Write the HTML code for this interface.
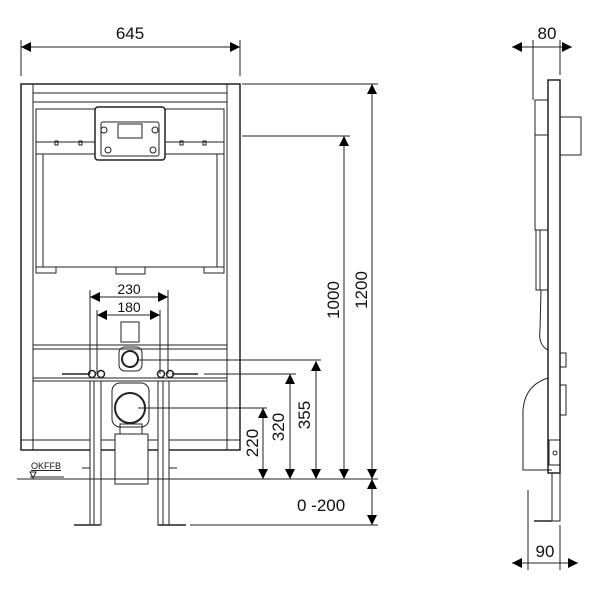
<!DOCTYPE html>
<html><head><style>body{margin:0;background:#fff}svg{display:block}text{font-family:"Liberation Sans",sans-serif;fill:#111}</style></head><body>
<svg width="600" height="600" viewBox="0 0 600 600" xmlns="http://www.w3.org/2000/svg">
<defs>
<marker id="a" viewBox="0 0 10 10" refX="10" refY="5" markerWidth="15" markerHeight="10" markerUnits="userSpaceOnUse" orient="auto-start-reverse"><path d="M0,0L10,5L0,10z" fill="#000"/></marker>
</defs>
<g stroke="#222" fill="none" stroke-width="1">
<line x1="21" y1="40" x2="21" y2="76"/><line x1="240" y1="40" x2="240" y2="76"/>
<line x1="21" y1="47" x2="240" y2="47" marker-start="url(#a)" marker-end="url(#a)"/>
<rect x="21" y="84" width="219" height="366" stroke-width="1.5"/>
<rect x="33" y="93" width="194" height="347"/>
<line x1="33" y1="102" x2="227" y2="102"/>
<line x1="21" y1="440" x2="240" y2="440"/>
<line x1="227" y1="84" x2="227" y2="450"/><line x1="33" y1="84" x2="33" y2="450"/>
<rect x="36" y="109" width="188" height="158"/>
<line x1="36" y1="142" x2="224" y2="142"/><line x1="36" y1="154" x2="224" y2="154"/>
<line x1="43" y1="154" x2="43" y2="267"/><line x1="217" y1="154" x2="217" y2="267"/>
<rect x="95" y="107" width="70" height="53" rx="3" fill="#fff" stroke-width="1.5"/>
<rect x="101" y="122" width="58" height="34" rx="2"/>
<rect x="118" y="124" width="24" height="14"/>
<circle cx="104" cy="130" r="3"/><circle cx="155" cy="130" r="3"/>
<circle cx="108" cy="150" r="3"/><circle cx="153" cy="150" r="3"/>
<rect x="55" y="141" width="3" height="4"/><rect x="79" y="141" width="3" height="4"/><rect x="180" y="141" width="3" height="4"/><rect x="203" y="141" width="3" height="4"/>
<rect x="36" y="267" width="20" height="6"/><rect x="204" y="267" width="20" height="6"/>
<rect x="116" y="267" width="29" height="7"/>
<rect x="33" y="345" width="194" height="4"/>
<rect x="33" y="378" width="194" height="3"/>
<line x1="62" y1="374" x2="90" y2="374" stroke-width="1.5"/><line x1="172" y1="374" x2="198" y2="374" stroke-width="1.5"/>
<circle cx="92" cy="374" r="3.5" stroke-width="1.5"/><circle cx="101" cy="374" r="3.5" stroke-width="1.5"/>
<circle cx="161" cy="374" r="3.5" stroke-width="1.5"/><circle cx="170" cy="374" r="3.5" stroke-width="1.5"/>
<rect x="121" y="322" width="18" height="20"/>
<rect x="119" y="347" width="23" height="24" rx="6"/>
<circle cx="130" cy="359" r="8" stroke-width="2"/>
<rect x="112" y="383" width="37" height="44" rx="8"/>
<circle cx="130" cy="408" r="15" stroke-width="2"/>
<rect x="120" y="424" width="22" height="10"/>
<rect x="115" y="434" width="33" height="50" fill="#fff"/>
<rect x="90" y="381" width="11" height="144" fill="#fff"/><line x1="94" y1="381" x2="94" y2="525"/>
<rect x="158" y="381" width="11" height="144" fill="#fff"/><line x1="163" y1="381" x2="163" y2="525"/>
<line x1="74" y1="525" x2="100" y2="525" stroke-width="1.5"/><line x1="158" y1="525" x2="186" y2="525" stroke-width="1.5"/>
<line x1="82" y1="468" x2="90" y2="468"/><line x1="169" y1="468" x2="177" y2="468"/>
<line x1="17" y1="479" x2="378" y2="479"/>
<line x1="30" y1="477" x2="64" y2="477"/>
<path d="M30,472L36,472L33,478z"/>
<line x1="90" y1="290" x2="90" y2="374"/><line x1="168" y1="290" x2="168" y2="374"/>
<line x1="97" y1="310" x2="97" y2="374"/><line x1="160" y1="310" x2="160" y2="374"/>
<line x1="90" y1="297" x2="168" y2="297" marker-start="url(#a)" marker-end="url(#a)"/>
<line x1="97" y1="315" x2="160" y2="315" marker-start="url(#a)" marker-end="url(#a)"/>
<line x1="242" y1="84" x2="378" y2="84"/>
<line x1="242" y1="136" x2="350" y2="136"/>
<line x1="138" y1="360" x2="321" y2="360"/>
<line x1="204" y1="374" x2="296" y2="374"/>
<line x1="138" y1="408" x2="267" y2="408"/>
<line x1="190" y1="525" x2="378" y2="525"/>
<line x1="372" y1="84" x2="372" y2="479" marker-start="url(#a)" marker-end="url(#a)"/>
<line x1="344" y1="136" x2="344" y2="479" marker-start="url(#a)" marker-end="url(#a)"/>
<line x1="316" y1="361" x2="316" y2="479" marker-start="url(#a)" marker-end="url(#a)"/>
<line x1="290" y1="374" x2="290" y2="479" marker-start="url(#a)" marker-end="url(#a)"/>
<line x1="263" y1="408" x2="263" y2="479" marker-start="url(#a)" marker-end="url(#a)"/>
<line x1="372" y1="479" x2="372" y2="525" marker-start="url(#a)" marker-end="url(#a)"/>
<line x1="512" y1="47" x2="572" y2="47" marker-start="url(#a)" marker-end="url(#a)"/>
<line x1="533" y1="40" x2="533" y2="100"/><line x1="560" y1="40" x2="560" y2="75"/>
<rect x="548" y="80" width="12" height="393" stroke-width="1.5"/>
<rect x="552" y="473" width="8" height="48"/>
<rect x="560" y="117" width="21" height="38"/>
<rect x="535" y="100" width="13" height="130"/>
<line x1="535" y1="135" x2="548" y2="135"/>
<rect x="536" y="230" width="12" height="60"/><line x1="540" y1="230" x2="540" y2="290"/>
<path d="M541,290L548,290L548,350Q538,345 540,330z"/>
<rect x="560" y="353" width="6" height="14"/><rect x="560" y="385" width="6" height="30"/>
<path d="M548,378Q525,385 523,410L523,470L552,470"/>
<rect x="549" y="440" width="11" height="25"/><circle cx="555" cy="453" r="2"/>
<line x1="534" y1="521" x2="552" y2="521" stroke-width="1.5"/>
<line x1="528" y1="490" x2="528" y2="570"/><line x1="560" y1="525" x2="560" y2="570"/>
<line x1="512" y1="563" x2="578" y2="563" marker-start="url(#a)" marker-end="url(#a)"/>
</g>
<text x="130" y="39" font-size="17" text-anchor="middle">645</text>
<text x="129" y="294" font-size="14" text-anchor="middle">230</text>
<text x="129" y="312" font-size="14" text-anchor="middle">180</text>
<text x="31" y="469" font-size="9" text-decoration="underline">OKFFB</text>
<text x="547" y="39" font-size="17" text-anchor="middle">80</text>
<text x="545" y="557" font-size="17" text-anchor="middle">90</text>
<text x="297" y="511" font-size="17">0 -200</text>
<g font-size="17" text-anchor="middle">
<text transform="translate(367,290) rotate(-90)">1200</text>
<text transform="translate(339,300) rotate(-90)">1000</text>
<text transform="translate(310,415) rotate(-90)">355</text>
<text transform="translate(284,427) rotate(-90)">320</text>
<text transform="translate(258,443) rotate(-90)">220</text>
</g>
</svg>
</body></html>
